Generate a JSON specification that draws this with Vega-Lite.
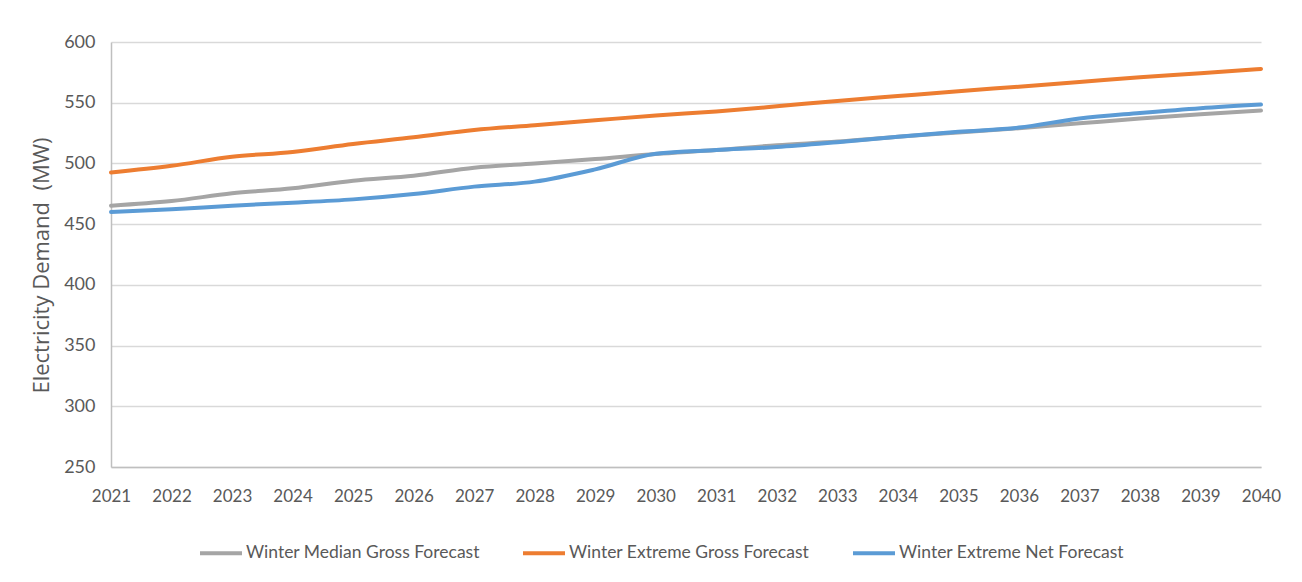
{
  "$schema": "https://vega.github.io/schema/vega-lite/v6.json",
  "autosize": "none",
  "width": 1150,
  "height": 425,
  "padding": {"left": 111, "top": 42, "right": 41, "bottom": 115},
  "background": "white",
  "config": {
    "view": {"stroke": null},
    "font": "Lato"
  },
  "datasets": {
    "demand": [
      {"year": 2021, "series": "Winter Median Gross Forecast", "value": 465.2},
      {"year": 2022, "series": "Winter Median Gross Forecast", "value": 469.0},
      {"year": 2023, "series": "Winter Median Gross Forecast", "value": 475.4},
      {"year": 2024, "series": "Winter Median Gross Forecast", "value": 479.5},
      {"year": 2025, "series": "Winter Median Gross Forecast", "value": 485.8},
      {"year": 2026, "series": "Winter Median Gross Forecast", "value": 489.9},
      {"year": 2027, "series": "Winter Median Gross Forecast", "value": 496.5},
      {"year": 2028, "series": "Winter Median Gross Forecast", "value": 500.0},
      {"year": 2029, "series": "Winter Median Gross Forecast", "value": 503.6},
      {"year": 2030, "series": "Winter Median Gross Forecast", "value": 507.8},
      {"year": 2031, "series": "Winter Median Gross Forecast", "value": 511.0},
      {"year": 2032, "series": "Winter Median Gross Forecast", "value": 515.0},
      {"year": 2033, "series": "Winter Median Gross Forecast", "value": 518.0},
      {"year": 2034, "series": "Winter Median Gross Forecast", "value": 522.0},
      {"year": 2035, "series": "Winter Median Gross Forecast", "value": 525.5},
      {"year": 2036, "series": "Winter Median Gross Forecast", "value": 529.0},
      {"year": 2037, "series": "Winter Median Gross Forecast", "value": 533.0},
      {"year": 2038, "series": "Winter Median Gross Forecast", "value": 537.0},
      {"year": 2039, "series": "Winter Median Gross Forecast", "value": 540.5},
      {"year": 2040, "series": "Winter Median Gross Forecast", "value": 543.5},
      {"year": 2021, "series": "Winter Extreme Gross Forecast", "value": 492.5},
      {"year": 2022, "series": "Winter Extreme Gross Forecast", "value": 498.0},
      {"year": 2023, "series": "Winter Extreme Gross Forecast", "value": 505.5},
      {"year": 2024, "series": "Winter Extreme Gross Forecast", "value": 509.5},
      {"year": 2025, "series": "Winter Extreme Gross Forecast", "value": 516.0},
      {"year": 2026, "series": "Winter Extreme Gross Forecast", "value": 521.5},
      {"year": 2027, "series": "Winter Extreme Gross Forecast", "value": 527.5},
      {"year": 2028, "series": "Winter Extreme Gross Forecast", "value": 531.5},
      {"year": 2029, "series": "Winter Extreme Gross Forecast", "value": 535.5},
      {"year": 2030, "series": "Winter Extreme Gross Forecast", "value": 539.5},
      {"year": 2031, "series": "Winter Extreme Gross Forecast", "value": 542.8},
      {"year": 2032, "series": "Winter Extreme Gross Forecast", "value": 547.0},
      {"year": 2033, "series": "Winter Extreme Gross Forecast", "value": 551.5},
      {"year": 2034, "series": "Winter Extreme Gross Forecast", "value": 555.5},
      {"year": 2035, "series": "Winter Extreme Gross Forecast", "value": 559.5},
      {"year": 2036, "series": "Winter Extreme Gross Forecast", "value": 563.2},
      {"year": 2037, "series": "Winter Extreme Gross Forecast", "value": 567.0},
      {"year": 2038, "series": "Winter Extreme Gross Forecast", "value": 571.0},
      {"year": 2039, "series": "Winter Extreme Gross Forecast", "value": 574.2},
      {"year": 2040, "series": "Winter Extreme Gross Forecast", "value": 577.8},
      {"year": 2021, "series": "Winter Extreme Net Forecast", "value": 460.0},
      {"year": 2022, "series": "Winter Extreme Net Forecast", "value": 462.2},
      {"year": 2023, "series": "Winter Extreme Net Forecast", "value": 465.2},
      {"year": 2024, "series": "Winter Extreme Net Forecast", "value": 467.6},
      {"year": 2025, "series": "Winter Extreme Net Forecast", "value": 470.4},
      {"year": 2026, "series": "Winter Extreme Net Forecast", "value": 474.8},
      {"year": 2027, "series": "Winter Extreme Net Forecast", "value": 480.9},
      {"year": 2028, "series": "Winter Extreme Net Forecast", "value": 485.0},
      {"year": 2029, "series": "Winter Extreme Net Forecast", "value": 495.1},
      {"year": 2030, "series": "Winter Extreme Net Forecast", "value": 508.0},
      {"year": 2031, "series": "Winter Extreme Net Forecast", "value": 511.0},
      {"year": 2032, "series": "Winter Extreme Net Forecast", "value": 513.5},
      {"year": 2033, "series": "Winter Extreme Net Forecast", "value": 517.5},
      {"year": 2034, "series": "Winter Extreme Net Forecast", "value": 522.0},
      {"year": 2035, "series": "Winter Extreme Net Forecast", "value": 526.0},
      {"year": 2036, "series": "Winter Extreme Net Forecast", "value": 529.5},
      {"year": 2037, "series": "Winter Extreme Net Forecast", "value": 537.0},
      {"year": 2038, "series": "Winter Extreme Net Forecast", "value": 541.5},
      {"year": 2039, "series": "Winter Extreme Net Forecast", "value": 545.5},
      {"year": 2040, "series": "Winter Extreme Net Forecast", "value": 548.5}
    ]
  },
  "data": {"name": "demand"},
  "mark": {"type": "line", "strokeWidth": 4, "interpolate": "monotone", "strokeCap": "round"},
  "encoding": {
    "x": {
      "field": "year",
      "type": "quantitative",
      "scale": {"domain": [2021, 2040], "nice": false, "zero": false},
      "axis": {
        "title": null,
        "values": [2021, 2022, 2023, 2024, 2025, 2026, 2027, 2028, 2029, 2030, 2031, 2032, 2033, 2034, 2035, 2036, 2037, 2038, 2039, 2040],
        "format": "d",
        "grid": false,
        "ticks": false,
        "domainColor": "#bfbfbf",
        "domainWidth": 1.5,
        "labelFont": "Lato",
        "labelFontSize": 17,
        "labelColor": "#595959",
        "labelPadding": 21,
        "labelFlush": false,
        "labelOverlap": false
      }
    },
    "y": {
      "field": "value",
      "type": "quantitative",
      "scale": {"domain": [250, 600], "nice": false, "zero": false},
      "axis": {
        "title": "Electricity Demand\u00a0 (MW)",
        "titleFont": "Open Sans",
        "titleFontSize": 22,
        "titleFontWeight": "normal",
        "titleColor": "#595959",
        "titlePadding": 10,
        "titleY": 223,
        "values": [250, 300, 350, 400, 450, 500, 550, 600],
        "grid": true,
        "gridColor": "#d9d9d9",
        "gridWidth": 1.5,
        "ticks": false,
        "domainColor": "#bfbfbf",
        "domainWidth": 1.5,
        "labelFont": "Lato",
        "labelFontSize": 18,
        "labelColor": "#595959",
        "labelPadding": 16
      }
    },
    "color": {
      "field": "series",
      "type": "nominal",
      "sort": ["Winter Median Gross Forecast", "Winter Extreme Gross Forecast", "Winter Extreme Net Forecast"],
      "scale": {
        "domain": ["Winter Median Gross Forecast", "Winter Extreme Gross Forecast", "Winter Extreme Net Forecast"],
        "range": ["#a5a5a5", "#ed7d31", "#5b9bd5"]
      },
      "legend": {
        "title": null,
        "orient": "none",
        "direction": "horizontal",
        "legendX": 87,
        "legendY": 488,
        "symbolType": "stroke",
        "symbolSize": 1764,
        "symbolStrokeWidth": 4,
        "labelFont": "Lato",
        "labelFontSize": 17.5,
        "labelColor": "#595959",
        "labelOffset": 2,
        "columnPadding": 35,
        "labelLimit": 400
      }
    }
  }
}
